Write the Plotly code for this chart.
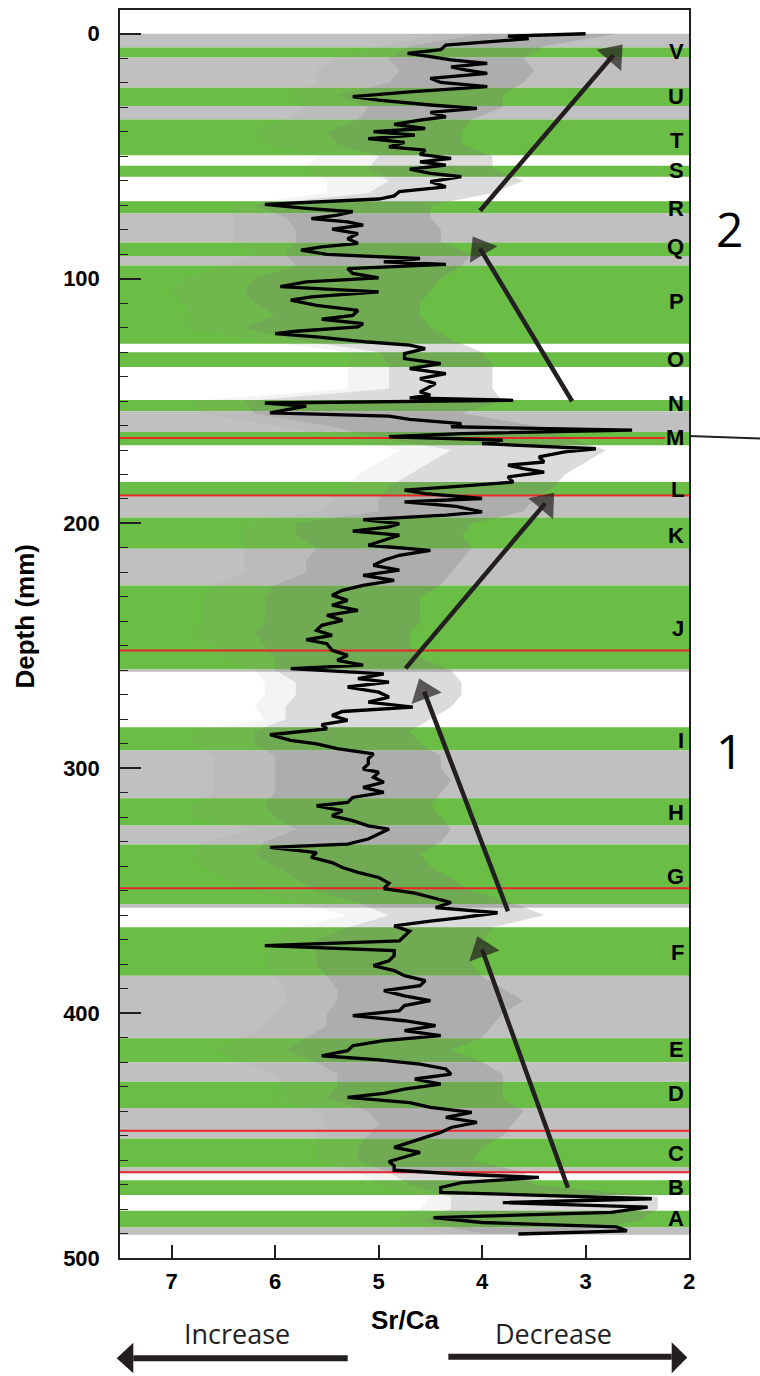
import plotly.graph_objects as go

# ---- growth bands down the core (mm): top, bottom, fill class ----
band_top = [0, 5.6, 9.7, 22.1, 29.5, 35.0, 53.9, 68.4, 73.4, 85.3, 90.8, 94.7,
            130.1, 149.6, 154.2, 162.6, 183.1, 188.9, 197.6, 210.3, 225.3, 259.6,
            283.2, 292.7, 312.2, 323.4, 331.1, 355.4, 364.9, 384.7, 410.3, 420.1,
            428.0, 438.7, 451.2, 463.0, 468.2, 480.7, 487.5]
band_bottom = [5.6, 9.7, 22.1, 29.5, 35.0, 49.6, 58.4, 73.4, 85.3, 90.8, 94.7, 126.6,
               136.1, 154.2, 162.6, 168.1, 188.9, 197.6, 210.3, 225.3, 259.6, 260.6,
               292.7, 312.2, 323.4, 331.1, 355.4, 357.0, 384.7, 410.3, 420.1, 428.0,
               438.7, 451.2, 463.0, 465.0, 474.3, 487.5, 490.5]
band_class = ["gray", "green", "gray", "green", "gray", "green", "green", "green", "gray",
              "green", "gray", "green", "green", "green", "gray", "green", "green", "gray",
              "green", "gray", "green", "gray", "green", "gray", "green", "gray", "green",
              "gray", "green", "gray", "green", "gray", "green", "gray", "green", "gray",
              "green", "green", "gray"]

# ---- smoothed Sr/Ca profile ----
depth_mm = [0, 1, 2, 3.5, 4.6, 6.5, 8.0, 9.3, 10.7, 12.1, 13.5, 14.9, 16.2, 18.2, 19.9,
            21.6, 23.7, 25.7, 27.1, 29.1, 30.5, 32.1, 33.9, 35.3, 37.0, 38.7, 40.0, 41.4,
            42.8, 44.4, 46.2, 47.5, 49.3, 50.9, 52.3, 53.7, 55.3, 57.0, 58.4, 60.4, 62.5,
            64.5, 66.2, 67.5, 69.7, 71.3, 72.7, 74.1, 75.5, 76.8, 78.2, 79.8, 81.6, 83.7,
            85.6, 87.0, 88.4, 90.1, 91.8, 93.2, 94.2, 95.9, 97.9, 99.7, 101.3, 103.3, 105.4,
            107.5, 108.8, 110.9, 113.0, 115.0, 116.6, 118.4, 119.7, 121.5, 122.5, 123.8,
            125.9, 127.2, 128.6, 130.6, 132.7, 134.7, 136.8, 138.8, 140.9, 142.9, 145.0,
            146.3, 147.6, 148.7, 149.7, 150.8, 152.1, 153.5, 154.8, 156.2, 157.5, 159.2,
            160.5, 161.9, 163.3, 164.6, 166.0, 167.4, 169.5, 170.8, 172.8, 174.9, 176.2,
            177.6, 179.0, 181.0, 183.1, 185.1, 186.4, 187.8, 189.8, 191.2, 193.0, 195.3,
            196.6, 198.4, 200.1, 201.4, 203.1, 204.8, 206.9, 208.9, 211.0, 213.0, 215.0,
            217.1, 219.1, 221.2, 223.2, 225.3, 227.3, 229.3, 231.4, 233.4, 235.5, 237.5,
            239.6, 241.6, 243.6, 245.7, 247.5, 249.1, 251.8, 253.9, 255.9, 257.9, 259.3,
            261.4, 263.4, 264.8, 266.8, 268.9, 270.9, 273.0, 275.0, 276.8, 278.4, 280.4,
            282.2, 283.9, 286.3, 288.6, 290.0, 292.0, 294.1, 296.1, 298.2, 300.3, 301.6,
            303.7, 305.7, 307.8, 309.8, 311.9, 313.9, 315.3, 317.3, 319.4, 321.4, 323.5,
            324.8, 326.9, 328.9, 331.0, 332.3, 334.4, 336.4, 338.5, 340.5, 342.5, 344.6,
            346.9, 349.1, 351.0, 353.2, 354.8, 356.9, 359.0, 361.0, 362.4, 364.4, 366.5,
            368.5, 370.5, 372.4, 374.5, 376.5, 378.6, 380.6, 382.6, 384.7, 386.7, 388.8,
            390.8, 392.9, 394.9, 396.9, 399.0, 401.0, 403.1, 405.1, 407.1, 409.2, 411.2,
            413.3, 415.3, 417.4, 419.1, 420.8, 422.8, 424.9, 426.9, 429.0, 431.0, 432.8,
            434.4, 436.5, 438.5, 440.5, 442.6, 444.6, 446.7, 448.7, 450.7, 452.8, 454.8,
            456.9, 458.9, 460.6, 462.3, 464.1, 465.8, 467.1, 469.2, 471.2, 473.2, 475.8,
            477.4, 479.2, 481.4, 483.5, 485.5, 487.3, 488.9, 490.2]
sr_ca = [3.0, 3.75, 3.55, 4.0, 4.35, 4.4, 4.72, 4.5, 4.3, 3.95, 4.3, 4.15, 3.95, 4.5, 4.4,
         3.95, 4.7, 5.25, 5.0, 4.5, 4.05, 4.5, 4.35, 4.6, 4.85, 4.55, 5.05, 4.65,
         5.1, 4.75, 4.9, 4.55, 4.6, 4.3, 4.6, 4.35, 4.7, 4.5, 4.2, 4.5, 4.35,
         4.8, 4.85, 5.0, 6.1, 5.7, 5.25, 5.4, 5.65, 5.3, 5.15, 5.45, 5.2, 5.3,
         5.2, 5.55, 5.75, 5.5, 4.6, 4.95, 4.35, 5.3, 5.25, 5.0, 5.7, 5.95, 5.0,
         5.65, 5.85, 5.6, 5.2, 5.25, 5.55, 5.15, 5.2, 5.8, 6.0, 5.6,
         5.1, 4.7, 4.55, 4.75, 4.75, 4.4, 4.7, 4.35, 4.6, 4.45, 4.55,
         4.6, 4.5, 4.7, 3.7, 6.1, 5.7, 5.9, 6.05, 4.9, 4.7, 4.2,
         4.3, 2.55, 4.2, 4.9, 3.8, 4.0, 2.9, 3.2, 3.45, 3.4, 3.75,
         3.6, 3.4, 3.75, 3.7, 4.3, 4.75, 4.55, 4.0, 4.75, 4.25, 4.0,
         4.35, 5.15, 4.8, 4.9, 5.25, 4.8, 4.95, 5.1, 4.5, 4.8, 4.95,
         5.05, 4.8, 5.15, 4.85, 5.15, 5.35, 5.45, 5.3, 5.45, 5.2, 5.5,
         5.35, 5.55, 5.6, 5.45, 5.7, 5.5, 5.45, 5.3, 5.4, 5.15, 5.85,
         4.95, 5.2, 4.9, 5.3, 5.0, 4.9, 5.1, 4.67, 5.35, 5.45, 5.3,
         5.55, 5.5, 6.05, 5.85, 5.6, 5.4, 5.05, 5.1, 5.1, 5.15, 5.0,
         5.05, 4.95, 5.15, 4.95, 5.25, 5.3, 5.6, 5.35, 5.45, 5.25, 5.1,
         4.9, 5.0, 5.1, 5.3, 6.05, 5.6, 5.65, 5.45, 5.35, 5.2, 5.0,
         4.9, 4.95, 4.65, 4.45, 4.3, 4.45, 3.85, 4.2, 4.5, 4.85, 4.7,
         4.75, 4.8, 6.1, 4.85, 4.85, 4.9, 5.05, 4.85, 4.75, 4.55, 4.6,
         4.95, 4.75, 4.5, 4.75, 4.8, 5.25, 4.75, 4.45, 4.75, 4.4, 4.95,
         5.25, 5.3, 5.55, 5.0, 4.6, 4.35, 4.3, 4.65, 4.4, 4.75, 4.95,
         5.3, 4.7, 4.5, 4.1, 4.35, 4.05, 4.3, 4.4, 4.55, 4.7, 4.85,
         4.6, 4.75, 4.9, 4.85, 4.85, 4.2, 3.45, 4.2, 4.4, 4.4, 2.36,
         3.8, 2.4, 2.75, 4.47, 4.0, 2.7, 2.6, 3.65]

# ---- spread of the raw (unsmoothed) measurements ----
haze_depth = list(range(0, 495, 5))
haze_outer = [4.4, 5.0, 5.4, 5.6, 5.6, 5.9, 5.7, 5.9, 6.2, 6.1,
              5.6, 5.7, 5.5, 5.5, 6.4, 6.4, 6.4, 6.4, 6.2, 6.5,
              6.9, 7.0, 6.9, 6.8, 6.9, 6.2, 5.3, 5.3, 5.3, 5.3,
              6.8, 6.7, 6.0, 5.3, 4.8, 5.0, 5.2, 5.3, 5.4, 5.6,
              6.3, 6.3, 6.3, 6.3, 6.3, 6.6, 6.7, 6.7, 6.7, 6.8,
              6.6, 6.5, 6.2, 6.1, 6.1, 6.2, 6.1, 6.8, 6.8, 6.6,
              6.6, 6.6, 6.6, 6.8, 6.8, 6.2, 6.7, 6.8, 6.7, 6.5,
              6.2, 5.8, 5.3, 5.8, 6.1, 6.1, 6.1, 6.0, 5.9, 5.9,
              6.0, 6.1, 6.3, 6.6, 6.3, 6.0, 5.95, 6.0, 5.6, 5.5,
              5.6, 5.6, 5.6, 5.2, 5.0, 4.5, 4.6, 4.9, 4.3]
haze_inner = [4.0, 4.7, 4.9, 4.8, 4.9, 5.4, 5.1, 5.2, 5.5, 5.4,
              5.0, 5.1, 4.9, 5.1, 6.2, 5.9, 5.8, 5.8, 5.9, 5.8,
              6.2, 6.3, 6.2, 6.0, 6.3, 5.8, 5.0, 4.9, 4.9, 4.9,
              6.3, 6.2, 5.5, 5.0, 4.3, 4.5, 4.7, 4.9, 5.0, 5.0,
              5.8, 5.8, 5.6, 5.7, 5.7, 6.0, 6.1, 6.1, 6.1, 6.2,
              6.1, 6.0, 6.0, 5.8, 5.8, 5.9, 5.9, 6.2, 6.2, 6.0,
              6.0, 6.0, 6.0, 6.1, 6.0, 5.8, 6.1, 6.2, 6.0, 5.8,
              5.6, 5.2, 4.9, 5.3, 5.6, 5.6, 5.6, 5.5, 5.4, 5.4,
              5.5, 5.5, 5.7, 5.9, 5.6, 5.4, 5.4, 5.5, 5.1, 5.0,
              5.1, 5.2, 5.2, 4.9, 4.7, 4.3, 4.3, 4.6, 4.0]
haze_low = [2.7, 3.4, 3.6, 3.5, 3.6, 3.8, 3.8, 4.1, 4.2, 4.2,
            3.9, 3.9, 3.6, 3.9, 4.5, 4.5, 4.4, 4.4, 4.1, 4.2,
            4.4, 4.5, 4.6, 4.6, 4.5, 4.3, 4.0, 3.9, 3.9, 3.9,
            3.8, 4.2, 3.5, 3.2, 2.8, 3.0, 3.2, 3.3, 3.5, 3.6,
            4.1, 4.2, 4.1, 4.2, 4.3, 4.4, 4.6, 4.6, 4.6, 4.7,
            4.7, 4.6, 4.3, 4.2, 4.2, 4.3, 4.5, 4.7, 4.6, 4.4,
            4.4, 4.3, 4.4, 4.5, 4.4, 4.3, 4.4, 4.6, 4.5, 4.3,
            4.1, 3.7, 3.4, 3.9, 4.0, 4.1, 4.1, 4.0, 3.8, 3.6,
            3.8, 3.9, 4.0, 4.3, 4.0, 3.8, 3.8, 3.8, 3.6, 3.7,
            3.8, 4.0, 4.1, 3.6, 3.5, 2.3, 2.3, 2.5, 3.3]

# ---- marker horizons and zone letters ----
red_depth = [165.1, 188.6, 251.9, 349.0, 448.0, 465.0]
red_end = [2.23, 2.0, 2.0, 2.0, 2.0, 2.0]
zone_label = ["V", "U", "T", "S", "R", "Q", "P", "O", "N", "M", "L",
              "K", "J", "I", "H", "G", "F", "E", "D", "C", "B", "A"]
zone_depth = [7.3, 25.7, 43.4, 55.7, 71.4, 87.0, 109.5, 133.0, 151.0, 164.7, 186.2,
              204.9, 243.0, 288.6, 317.9, 344.2, 375.2, 415.0, 433.0, 457.5, 471.2, 483.9]

# ---- trend arrows: tail (Sr/Ca, depth) -> head (Sr/Ca, depth) ----
arrow_tail_x = [3.17, 3.75, 4.74, 3.13, 4.02]
arrow_tail_y = [471.3, 358.4, 259.2, 150.1, 72.3]
arrow_head_x = [4.00, 4.56, 3.39, 4.02, 2.73]
arrow_head_y = [374.0, 268.7, 191.8, 87.7, 8.7]

X_RANGE = [7.5, 2.0]
Y_RANGE = [500, -9.7]
GREEN = "#6ABD45"
GRAY = "#C0C0C0"
INK = "#231F20"
RED = "#E8262A"

fig = go.Figure()

shapes = []
for top, bot, cls in zip(band_top, band_bottom, band_class):
    shapes.append(dict(type="rect", xref="paper", yref="y", x0=0, x1=1, y0=top, y1=bot,
                       fillcolor=GREEN if cls == "green" else GRAY,
                       line=dict(width=0), layer="below"))

# raw-data spread: faint outer envelope, slightly darker inner envelope
fig.add_trace(go.Scatter(
    x=haze_outer + haze_low[::-1], y=haze_depth + haze_depth[::-1],
    fill="toself", fillcolor="rgba(150,150,150,0.10)", line=dict(width=0),
    mode="lines", hoverinfo="skip", showlegend=False))
fig.add_trace(go.Scatter(
    x=haze_inner + haze_low[::-1], y=haze_depth + haze_depth[::-1],
    fill="toself", fillcolor="rgba(120,120,120,0.20)", line=dict(width=0),
    mode="lines", hoverinfo="skip", showlegend=False))

# red horizons
rx, ry = [], []
for d, xe in zip(red_depth, red_end):
    rx += [X_RANGE[0], xe, None]
    ry += [d, d, None]
fig.add_trace(go.Scatter(x=rx, y=ry, mode="lines", line=dict(color=RED, width=2),
                         hoverinfo="skip", showlegend=False))

# smoothed profile
fig.add_trace(go.Scatter(x=sr_ca, y=depth_mm, mode="lines",
                         line=dict(color="#000000", width=3.3),
                         hoverinfo="skip", showlegend=False))

# trend arrows
for tx, ty, hx, hy in zip(arrow_tail_x, arrow_tail_y, arrow_head_x, arrow_head_y):
    fig.add_trace(go.Scatter(
        x=[tx, hx], y=[ty, hy], mode="lines+markers",
        line=dict(color=INK, width=4.5),
        marker=dict(symbol="triangle-up", size=[0, 28], color=INK,
                    angleref="previous", line=dict(width=0)),
        hoverinfo="skip", showlegend=False, cliponaxis=False))

annotations = []
for lab, d in zip(zone_label, zone_depth):
    annotations.append(dict(text=lab, xref="paper", yref="y", x=0.9947, y=d,
                            xanchor="right", yanchor="middle", showarrow=False,
                            font=dict(family="Liberation Sans", size=22, color="#000000",
                                      weight="bold")))

annotations += [
    dict(text="Depth (mm)", xref="paper", yref="paper", x=-0.167, y=0.514,
         textangle=-90, showarrow=False, xanchor="center", yanchor="middle",
         font=dict(family="Liberation Sans", size=26, color="#000000", weight="bold")),
    dict(text="Sr/Ca", xref="paper", yref="paper", x=0.5009, y=-0.0497,
         showarrow=False, xanchor="center", yanchor="middle",
         font=dict(family="Liberation Sans", size=26, color="#000000", weight="bold")),
    dict(text="Increase", xref="paper", yref="paper", x=0.2056, y=-0.0601,
         showarrow=False, xanchor="center", yanchor="middle",
         font=dict(family="Open Sans", size=27, color=INK)),
    dict(text="Decrease", xref="paper", yref="paper", x=0.761, y=-0.0601,
         showarrow=False, xanchor="center", yanchor="middle",
         font=dict(family="Open Sans", size=27, color=INK)),
    dict(text="2", xref="paper", yref="paper", x=1.072, y=0.8253,
         showarrow=False, xanchor="center", yanchor="middle",
         font=dict(family="Open Sans", size=48, color="#000000")),
    dict(text="1", xref="paper", yref="paper", x=1.072, y=0.407,
         showarrow=False, xanchor="center", yanchor="middle",
         font=dict(family="Open Sans", size=48, color="#000000")),
]

# leader from zone M out past the frame
shapes.append(dict(type="line", xref="paper", yref="paper", x0=1.0, y0=0.6587,
                   x1=1.125, y1=0.6567, line=dict(color=INK, width=2)))
# direction arrows under the axis
shapes += [
    dict(type="line", xref="paper", yref="paper", x0=0.0234, x1=0.4002, y0=-0.0804,
         y1=-0.0804, line=dict(color=INK, width=6)),
    dict(type="path", xref="paper", yref="paper",
         path="M -0.0058,-0.0804 L 0.0234,-0.0679 L 0.0234,-0.0924 Z",
         fillcolor=INK, line=dict(width=0)),
    dict(type="line", xref="paper", yref="paper", x0=0.577, x1=0.9696, y0=-0.0791,
         y1=-0.0791, line=dict(color=INK, width=6)),
    dict(type="path", xref="paper", yref="paper",
         path="M 0.997,-0.0797 L 0.9696,-0.0675 L 0.9696,-0.0924 Z",
         fillcolor=INK, line=dict(width=0)),
]

tickfont = dict(family="Liberation Sans", size=22, color="#000000", weight="bold")
fig.update_layout(
    width=760, height=1376,
    margin=dict(l=120, r=71, t=10, b=118, autoexpand=False),
    paper_bgcolor="white", plot_bgcolor="white",
    shapes=shapes, annotations=annotations,
    xaxis=dict(range=X_RANGE, tickvals=[7, 6, 5, 4, 3, 2], ticks="inside", ticklen=13,
               tickwidth=1.5, tickcolor=INK, showline=True, linecolor=INK, linewidth=1.5,
               mirror=True, showgrid=False, zeroline=False, tickfont=tickfont,
               ticklabelstandoff=3),
    yaxis=dict(range=Y_RANGE, tickvals=[0, 100, 200, 300, 400, 500], ticks="inside",
               ticklen=21, tickwidth=1.5, tickcolor=INK, showline=True, linecolor=INK,
               linewidth=1.5, mirror=True, showgrid=False, zeroline=False,
               tickfont=tickfont, ticklabelstandoff=14,
               minor=dict(tick0=0, dtick=10, ticks="inside", ticklen=8, tickwidth=1,
                          tickcolor=INK, showgrid=False)),
)

fig.write_html("out.html")
